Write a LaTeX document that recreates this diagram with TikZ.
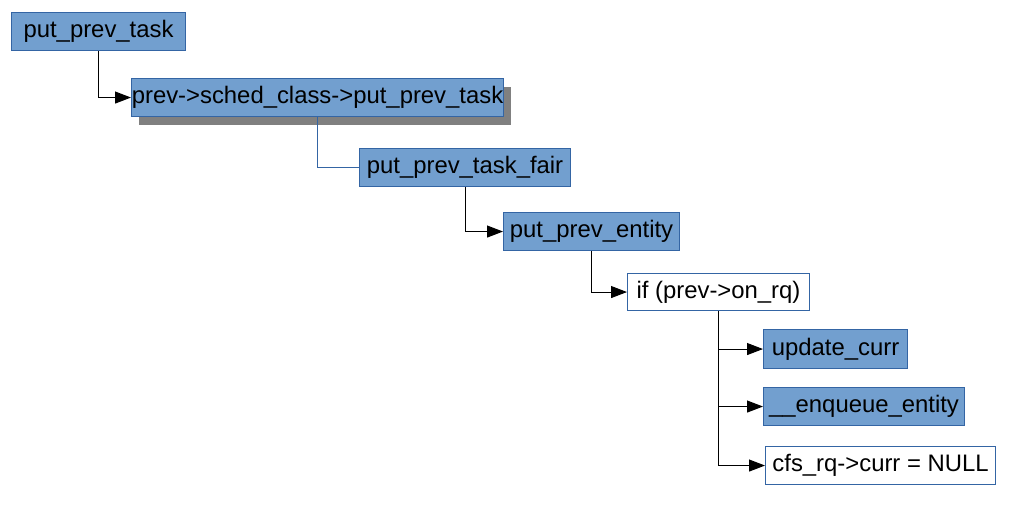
\documentclass[tikz,border=0pt]{standalone}
\usepackage{fontspec}
\setmainfont{Liberation Sans}
\usepackage{xcolor}
\usetikzlibrary{arrows.meta,shadows,positioning}
\definecolor{boxfill}{HTML}{729FCF}
\definecolor{boxline}{HTML}{3465A4}
\definecolor{shadowgray}{HTML}{808080}

\begin{document}
\begin{tikzpicture}[x=0.75pt,y=-0.75pt,
  func/.style={draw=boxline,fill=boxfill,line width=0.8pt,anchor=north west,inner sep=0pt,
    font=\fontsize{17.9}{20}\selectfont},
  stmt/.style={func,fill=white},
  call/.style={-{Triangle[length=12pt,width=9pt]},line width=0.75pt}]
\useasboundingbox (0,0) rectangle (1010,504);

% call chain
\node[func,minimum width=130.5pt,minimum height=28.5pt] (task) at (11,12) {put\_prev\_task};
\node[func,minimum width=279pt,minimum height=28.5pt,
  drop shadow={shadow xshift=5.25pt,shadow yshift=-6pt,fill=shadowgray,opacity=1}]
  (sched) at (131,78) {prev->sched\_class->put\_prev\_task};
\node[func,minimum width=158.25pt,minimum height=28.5pt] (fair) at (359,148) {put\_prev\_task\_fair};
\node[func,minimum width=132pt,minimum height=28.5pt] (entity) at (503,212) {put\_prev\_entity};
\node[stmt,minimum width=136.5pt,minimum height=27.75pt] (onrq) at (627,273) {if (prev->on\_rq)};

% body of the if
\node[func,minimum width=108pt,minimum height=29.25pt] (update) at (763,329) {update\_curr};
\node[func,minimum width=150.75pt,minimum height=28.5pt] (enqueue) at (763,387) {\_\_enqueue\_entity};
\node[stmt,minimum width=172.5pt,minimum height=28.5pt] (curr) at (765,446) {cfs\_rq->curr = NULL};

% connectors
\draw[call] (task.south) |- (sched.west);
\draw[boxline,line width=0.75pt] (sched.south) |- (fair.west);
\draw[call] (fair.south) |- (entity.west);
\draw[call] (entity.south) |- (onrq.west);
\draw[call] (onrq.south) |- (update.west);
\draw[call] (onrq.south) |- (enqueue.west);
\draw[call] (onrq.south) |- (curr.west);
\end{tikzpicture}
\end{document}
